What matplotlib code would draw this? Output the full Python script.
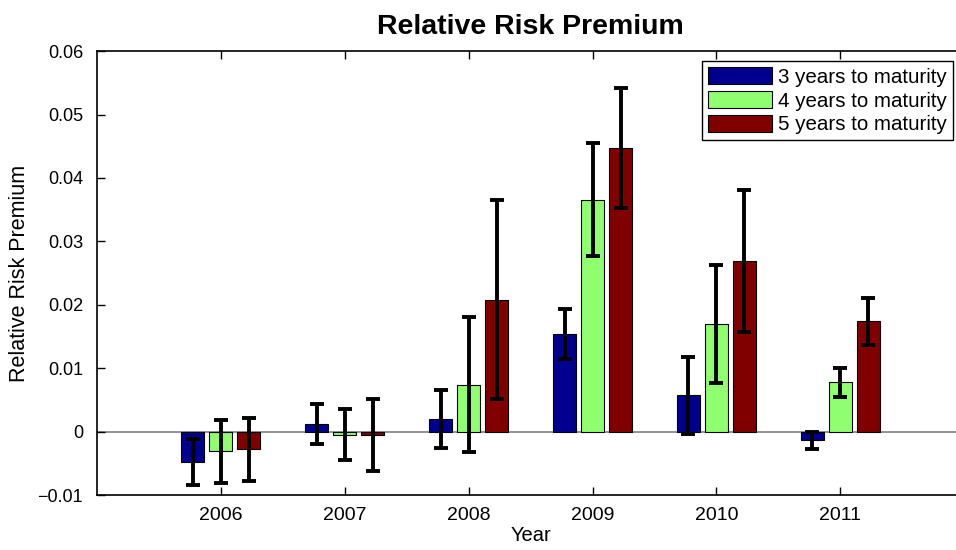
import numpy as np
import matplotlib.pyplot as plt

plt.rcParams['font.family'] = ['Liberation Sans', 'DejaVu Sans']

# data
years = [2006, 2007, 2008, 2009, 2010, 2011]
series_labels = ['3 years to maturity', '4 years to maturity', '5 years to maturity']
premium_3y = [-0.0048, 0.0012, 0.0020, 0.0154, 0.0057, -0.0014]
premium_4y = [-0.0031, -0.0005, 0.0074, 0.0366, 0.0170, 0.0078]
premium_5y = [-0.0028, -0.0005, 0.0208, 0.0447, 0.0269, 0.0174]
err_3y = [0.0037, 0.0032, 0.0046, 0.0039, 0.0061, 0.0013]
err_4y = [0.0050, 0.0040, 0.0106, 0.0089, 0.0093, 0.0023]
err_5y = [0.0050, 0.0057, 0.0157, 0.0095, 0.0112, 0.0037]

colors = ['#00008F', '#8FFF70', '#800000']

fig = plt.figure(figsize=(9.56, 5.5), dpi=100)
ax = fig.add_axes([0.1015, 0.1, 0.907, 0.807])

x = np.array(years, dtype=float)
offsets = [-0.226, 0.0, 0.226]
width = 0.185
values = [premium_3y, premium_4y, premium_5y]
errors = [err_3y, err_4y, err_5y]

# zero baseline like MATLAB bar()
ax.axhline(0, color='#808080', linewidth=1.2, zorder=1)

for vals, errs, off, col, lab in zip(values, errors, offsets, colors, series_labels):
    ax.bar(x + off, vals, width=width, color=col, edgecolor='black',
           linewidth=0.8, label=lab, zorder=2)
    ax.errorbar(x + off, vals, yerr=errs, fmt='none', ecolor='black',
                elinewidth=2.8, capsize=5, capthick=2.8, zorder=3)

ax.set_xlim(2005, 2012)
ax.set_ylim(-0.01, 0.06)
ax.set_xticks(years)
ax.set_yticks(np.arange(-0.01, 0.061, 0.01))
ax.set_yticklabels(['\u22120.01', '0', '0.01', '0.02', '0.03', '0.04', '0.05', '0.06'])
ax.tick_params(direction='in', top=True, right=True, length=6, width=1)
ax.tick_params(axis='x', labelsize=14, pad=9)
ax.tick_params(axis='y', labelsize=13, pad=10)
for sp in ax.spines.values():
    sp.set_linewidth(1.2)

ax.set_title('Relative Risk Premium', fontsize=20.5, fontweight='bold', pad=12)
ax.set_xlabel('Year', fontsize=14.5, labelpad=1)
ax.set_ylabel('Relative Risk Premium', fontsize=15.5)
ax.yaxis.set_label_coords(-0.077, 0.5)

leg = ax.legend(loc='upper right', bbox_to_anchor=(953 / 956, 1 - 61 / 550),
                bbox_transform=fig.transFigure, fontsize=14.8, fancybox=False,
                edgecolor='black', framealpha=1, borderpad=0.3,
                labelspacing=0.2, handlelength=3.1, handleheight=0.9,
                handletextpad=0.3, borderaxespad=0)
leg.get_frame().set_linewidth(1.0)

fig.savefig('out.png', dpi=100)
